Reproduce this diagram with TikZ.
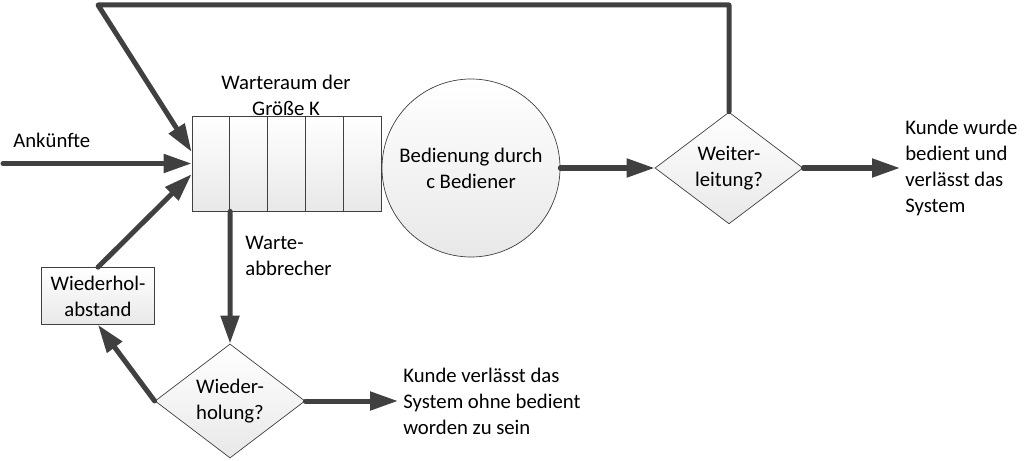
\documentclass[tikz,border=0pt]{standalone}
\usepackage{fontspec}
\setmainfont{Carlito}
\usetikzlibrary{arrows.meta,shapes.geometric}
\definecolor{dgrau}{RGB}{64,64,64}

\begin{document}
\begin{tikzpicture}
[font=\fontsize{11.8}{14.8}\selectfont,
cell/.style={rectangle,draw=dgrau,top color=white,bottom color=black!9,minimum width=0.756cm,minimum height=1.9cm,inner sep=0pt},
srv/.style={circle,draw=dgrau,top color=white,bottom color=black!9,minimum size=3.56cm,inner sep=0pt,align=center},
dec/.style={diamond,draw=dgrau,top color=white,bottom color=black!9,inner sep=0pt,align=center},
wbox/.style={rectangle,draw=dgrau,top color=white,bottom color=black!9,minimum width=2.26cm,minimum height=1.14cm,inner sep=0pt,align=center},
lbl/.style={inner sep=0.1cm,align=left},
arr/.style={-{Triangle[length=0.56cm,width=0.36cm]},line width=0.1cm,draw=dgrau,line cap=round}]
\useasboundingbox (0,0) rectangle (20.54,9.2);
\foreach \i in {1,...,5}
  \node[cell] at ({3.462+0.756*\i},5.93) (q\i) {};
\node[srv] at (9.42,5.84) (srv) {Bedienung durch\\c Bediener};
\node[dec,minimum width=2.96cm,minimum height=2.18cm] at (14.58,5.84) (d1) {Weiter-\\leitung?};
\node[dec,minimum width=3cm,minimum height=2.28cm] at (4.6,1.18) (d2) {Wieder-\\holung?};
\node[wbox] at (1.96,3.28) (wb) {Wiederhol-\\abstand};
\node[lbl,anchor=west] at (0.16,6.4) (ank) {Ankünfte};
\node[lbl,align=center] at (5.72,7.3) (wr) {Warteraum der\\Größe K};
\node[lbl,anchor=west] at (4.8,4.08) (wa) {Warte-\\abbrecher};
\node[lbl,anchor=west] at (18.0,5.84) (aus1) {Kunde wurde\\bedient und\\verlässt das\\System};
\node[lbl,anchor=west] at (7.96,1.18) (aus2) {Kunde verlässt das\\System ohne bedient\\worden zu sein};
\coordinate (ein) at (0.06,5.93);
\coordinate (ecke) at (1.96,9.1);
\draw[arr] (ein) -- (q1.west);
\draw[arr,line join=round] (d1.north) |- (ecke) -- (q1.149);
\draw[arr] (q1.south east) -- (d2.north);
\draw[arr] (d2.west) -- (wb.south);
\draw[arr] (wb.north) -- (q1.209);
\draw[arr] (srv.east) -- (d1.west);
\draw[arr] (d1.east) -- (aus1.west);
\draw[arr] (d2.east) -- (aus2.west);
\end{tikzpicture}
\end{document}
